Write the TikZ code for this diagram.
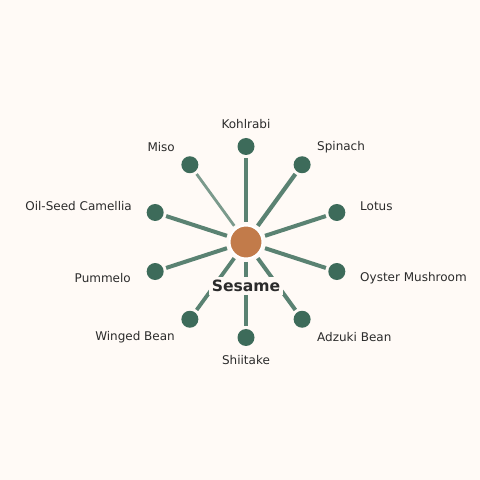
\documentclass[tikz,border=0pt]{standalone}
\usepackage{fontspec}
\setmainfont{DejaVu Sans}
\usetikzlibrary{calc}
\definecolor{bgc}{HTML}{FFFAF6}
\definecolor{leafc}{HTML}{3D6B5A}
\definecolor{edgec}{HTML}{5A8272}
\definecolor{hubc}{HTML}{C27B4A}
\definecolor{txtc}{HTML}{2B2B2B}
\begin{document}
\begin{tikzpicture}[x=1pt,y=1pt,
  hub/.style={circle,fill=hubc,draw=white,line width=2pt,minimum size=33pt,inner sep=0pt},
  leaf/.style={circle,fill=leafc,minimum size=17pt,inner sep=0pt},
  edge/.style={draw=edgec,line width=4pt,shorten <=20pt,shorten >=11.5pt},
  lbl/.style={text=txtc,font=\fontsize{12}{14}\selectfont,inner sep=0pt},
  hublbl/.style={text=txtc,font=\fontsize{15.6}{18}\selectfont\bfseries,fill=bgc,inner sep=3pt}]
\fill[bgc] (0,0) rectangle (480,480);
\useasboundingbox (0,0) rectangle (480,480);
\coordinate (c) at (246,238);
\foreach \n/\a in {kohl/90,spin/54,lotus/18,oyst/-18,adz/-54,shii/-90,wing/-126,pumm/-162,oil/162,miso/126}{
  \node[leaf] (\n) at ($(c)+(\a:95.5)$) {};
}
\foreach \n/\w in {kohl/4,spin/4.2,lotus/4,oyst/4,adz/4,shii/3.6,wing/3.8,pumm/4,oil/4}{
  \draw[edge,line width=\w pt] (c) -- (\n.center);
}
\draw[edge,line width=2.8pt,draw opacity=0.8] (c) -- (miso.center);
\node[hub] (hub) at (c) {};
\node[hublbl] (hubl) at (246,194) {Sesame};
\node[lbl] (lkohl) at (246,356) {Kohlrabi};
\node[lbl,anchor=west] (lspin) at (317,333) {Spinach};
\node[lbl,anchor=west] (llotus) at (360,274) {Lotus};
\node[lbl,anchor=west] (loyst) at (360,202) {Oyster Mushroom};
\node[lbl,anchor=west] (ladz) at (317,143) {Adzuki Bean};
\node[lbl] (lshii) at (246,120) {Shiitake};
\node[lbl,anchor=east] (lwing) at (175,143) {Winged Bean};
\node[lbl,anchor=east] (lpumm) at (131,202) {Pummelo};
\node[lbl,anchor=east] (loil) at (132,274) {Oil-Seed Camellia};
\node[lbl,anchor=east] (lmiso) at (175,333) {Miso};
\end{tikzpicture}
\end{document}
